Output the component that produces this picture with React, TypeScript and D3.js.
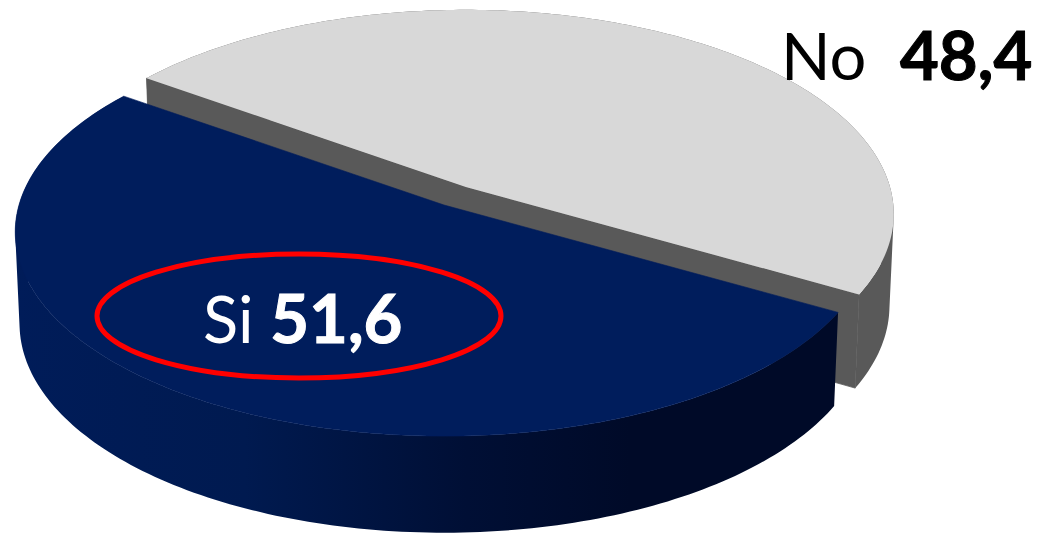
import * as d3 from "d3";

const labels = ["Si", "No"];
const values = [51.6, 48.4];
const valueLabels = ["51,6", "48,4"];
const topColors = ["#001d5c", "#d8d8d8"];
const wallColor = "#595959";

const width = 1037;
const height = 533;

// projection of the tilted disc
const ry = 200.6;
const tilt = 0.132;
const depth = 91;
const bottomScale = 0.99;
const startDeg = 120;

type Center = { x: number; y: number; rx: number };
type Pt = [number, number];

const centers: Center[] = [
  { x: 444, y: 205, rx: 425 },
  { x: 466, y: 187, rx: 424 },
];

function project(angle: number, r: number, c: Center, z: number): Pt {
  const u = Math.sin(angle) * r;
  const v = -Math.cos(angle) * r;
  const w = 1 - tilt * v;
  const s = z ? bottomScale : 1;
  const drop = z ? depth / (1 - 0.08 * v) : 0;
  return [c.x + (c.rx * u * s) / w, c.y + (ry * v * s) / w + drop];
}

const pie = d3
  .pie<number>()
  .sort(null)
  .startAngle((startDeg * Math.PI) / 180)
  .endAngle((startDeg * Math.PI) / 180 + 2 * Math.PI);

const slices = pie(values);
const line = d3.line<Pt>();

function arcPoints(start: number, end: number, c: Center, z: number): Pt[] {
  return d3.range(0, 181).map((i) => project(start + ((end - start) * i) / 180, 1, c, z));
}

// side wall as quads in a single path; every quad wound the same way or overlaps cancel out
function wallPath(start: number, end: number, c: Center): string {
  const top = arcPoints(start, end, c, 0);
  const bottom = arcPoints(start, end, c, 1);
  return d3
    .range(0, top.length - 1)
    .map((i) => {
      const quad: Pt[] = [top[i], top[i + 1], bottom[i + 1], bottom[i]];
      if (d3.polygonArea(quad) < 0) quad.reverse();
      return line(quad) + "Z";
    })
    .join("");
}

export default function App() {
  const [si, no] = slices;
  const siC = centers[0];
  const noC = centers[1];

  const siTop = [project(0, 0, siC, 0), ...arcPoints(si.startAngle, si.endAngle, siC, 0)];
  const noTop = [project(0, 0, noC, 0), ...arcPoints(no.startAngle, no.endAngle, noC, 0)];
  // cut faces of the grey slice, seen through the gap
  const noFace = [
    project(no.startAngle, 1, noC, 0),
    project(0, 0, noC, 0),
    project(no.endAngle, 1, noC, 0),
    project(no.endAngle, 1, noC, 1),
    project(0, 0, noC, 1),
    project(no.startAngle, 1, noC, 1),
  ];

  const font = "Lato, Carlito, sans-serif";

  return (
    <svg
      width={width}
      height={height}
      viewBox={`0 0 ${width} ${height}`}
      style={{ position: "absolute", left: 0, top: 0 }}
    >
      <defs>
        <linearGradient id="siWall" gradientUnits="userSpaceOnUse" x1={15} x2={835} y1={0} y2={0}>
          <stop offset="0" stopColor="#001c59" />
          <stop offset="0.28" stopColor="#001a50" />
          <stop offset="0.55" stopColor="#000f35" />
          <stop offset="0.75" stopColor="#000a28" />
          <stop offset="1" stopColor="#000a28" />
        </linearGradient>
      </defs>

      <path d={wallPath(no.startAngle, no.endAngle, noC)} fill={wallColor} />
      <path d={line(noFace) + "Z"} fill={wallColor} stroke={wallColor} strokeWidth={0.8} />
      <path d={line(noTop) + "Z"} fill={topColors[1]} />

      <path d={wallPath(si.startAngle, si.endAngle, siC)} fill="url(#siWall)" />
      <path d={line(siTop) + "Z"} fill={topColors[0]} stroke={topColors[0]} strokeWidth={0.6} />

      <ellipse cx={299} cy={316} rx={202} ry={62} fill="none" stroke="#ff0000" strokeWidth={5} />

      <text x={203} y={343} fontFamily={font} fontSize={65} fill="#ffffff">
        {labels[0]}{" "}
        <tspan fontWeight={700} fontSize={67} stroke="#ffffff" strokeWidth={1}>
          {valueLabels[0]}
        </tspan>
      </text>
      <text x={781} y={80} fontFamily={font} fontSize={65} fill="#000000">
        {labels[1]}
      </text>
      <text x={900} y={80} fontFamily={font} fontSize={67} fontWeight={700} fill="#000000" stroke="#000000" strokeWidth={1}>
        {valueLabels[1]}
      </text>
    </svg>
  );
}
